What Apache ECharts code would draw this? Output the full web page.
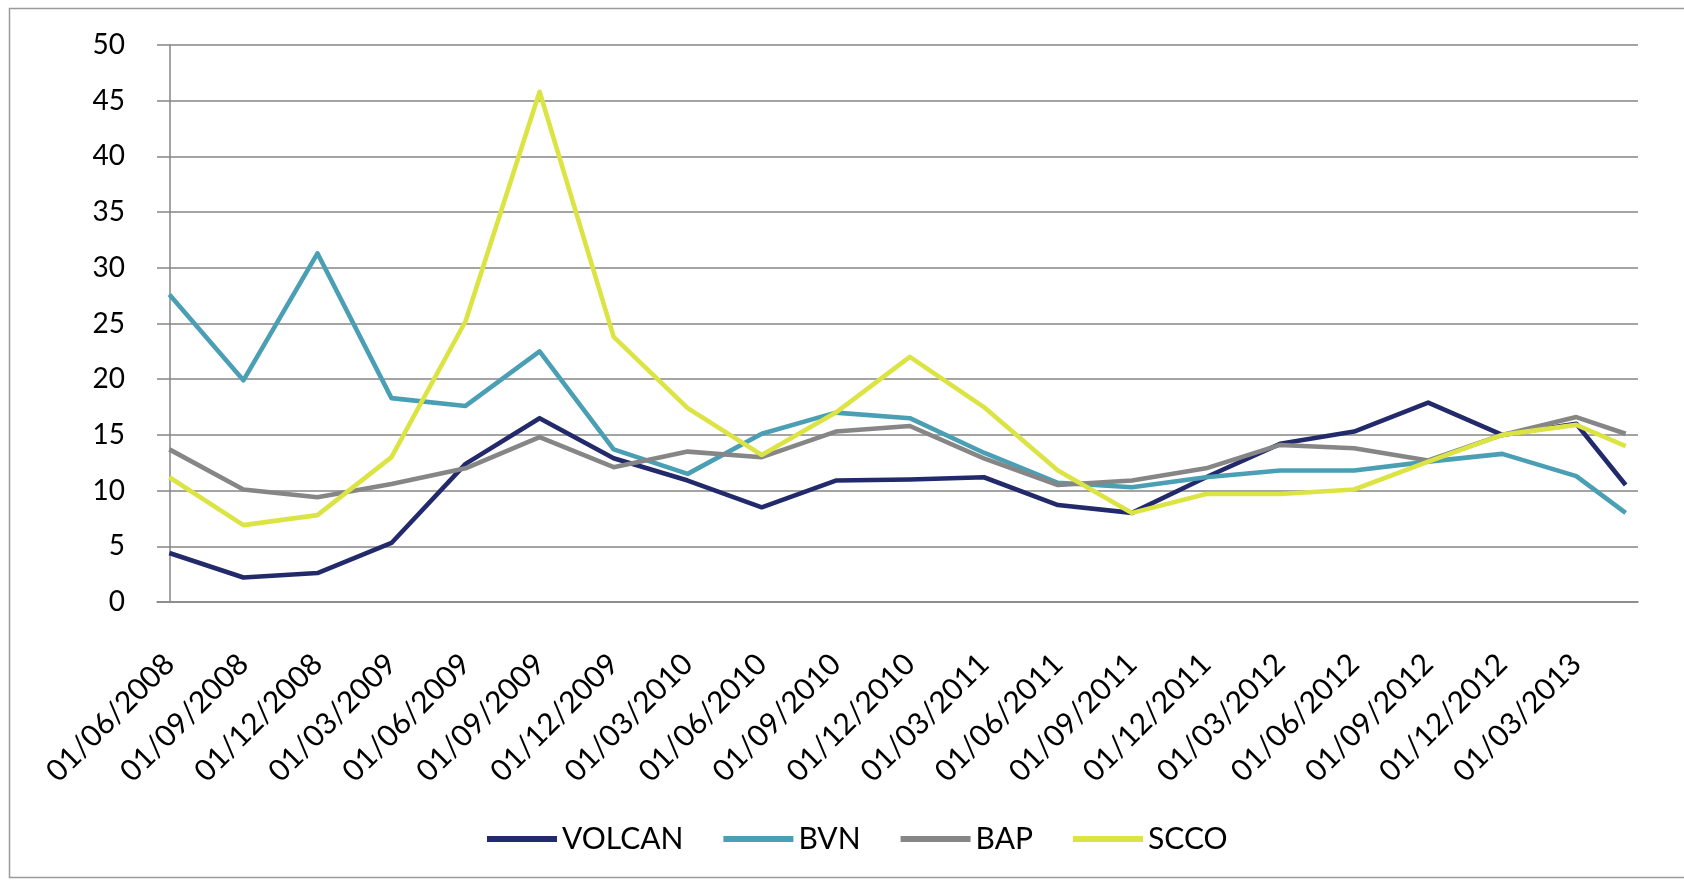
<!DOCTYPE html>
<html>
<head>
<meta charset="utf-8">
<script src="https://cdn.jsdelivr.net/npm/echarts@6/dist/echarts.min.js"></script>
<style>
html,body{margin:0;padding:0;background:#fff;}
#c{width:1684px;height:883px;}
</style>
</head>
<body>
<div id="c"></div>
<script>
// Observation dates (dd/mm/yyyy)
const dates = ["01/06/2008","01/09/2008","01/12/2008","01/03/2009","01/06/2009","01/09/2009","01/12/2009",
  "01/03/2010","01/06/2010","01/09/2010","01/12/2010","01/03/2011","01/06/2011","01/09/2011","01/12/2011",
  "01/03/2012","01/06/2012","01/09/2012","01/12/2012","01/03/2013","01/05/2013"];
// Axis tick labels
const tickLabels = ["01/06/2008","01/09/2008","01/12/2008","01/03/2009","01/06/2009","01/09/2009","01/12/2009",
  "01/03/2010","01/06/2010","01/09/2010","01/12/2010","01/03/2011","01/06/2011","01/09/2011","01/12/2011",
  "01/03/2012","01/06/2012","01/09/2012","01/12/2012","01/03/2013"];
const volcan = [4.4, 2.2, 2.6, 5.3, 12.4, 16.5, 12.9, 10.9, 8.5, 10.9, 11.0, 11.2, 8.7, 8.0, 11.2, 14.2, 15.3, 17.9, 15.0, 16.0, 10.5];
const bvn    = [27.6, 19.9, 31.3, 18.3, 17.6, 22.5, 13.7, 11.5, 15.1, 17.0, 16.5, 13.4, 10.7, 10.3, 11.2, 11.8, 11.8, 12.6, 13.3, 11.3, 8.0];
const bap    = [13.7, 10.1, 9.4, 10.6, 12.0, 14.8, 12.1, 13.5, 13.0, 15.3, 15.8, 12.9, 10.5, 10.9, 12.0, 14.1, 13.8, 12.7, 15.0, 16.6, 15.1];
const scco   = [11.2, 6.9, 7.8, 13.0, 25.2, 45.8, 23.8, 17.4, 13.2, 17.0, 22.0, 17.5, 11.8, 8.0, 9.7, 9.7, 10.1, 12.6, 15.0, 15.9, 14.0];
const seriesNames = ["VOLCAN","BVN","BAP","SCCO"];
const seriesColors = ["#232a6c","#4a9fb4","#868686","#dbe443"];

// month offset from the first date (June 2008), used as the date-axis position
function monthIndex(s){
  const p = s.split("/");
  return (parseInt(p[2],10) - 2008) * 12 + (parseInt(p[1],10) - 6);
}
const tickMonths = tickLabels.map(monthIndex);
const labelMap = {};
tickLabels.forEach(function(t){ labelMap[monthIndex(t)] = t; });

const allValues = [volcan, bvn, bap, scco];
const series = allValues.map(function(vals, k){
  return {
    name: seriesNames[k],
    type: 'line',
    data: dates.map(function(d, i){ return [monthIndex(d), vals[i]]; }),
    symbol: 'none',
    lineStyle: { width: 4.6, color: seriesColors[k], join: 'round' },
    itemStyle: { color: seriesColors[k] },
    z: 3 + k
  };
});

const chart = echarts.init(document.getElementById('c'), null, {renderer: 'canvas'});
chart.setOption({
  backgroundColor: '#ffffff',
  animation: false,
  graphic: [{
    type: 'rect',
    shape: { x: 9.5, y: 8.5, width: 1720, height: 869 },
    style: { fill: 'none', stroke: '#9a9a9a', lineWidth: 1.5 },
    silent: true, z: -1
  }],
  grid: { left: 157, right: 46, top: 45, bottom: 281, containLabel: false },
  legend: {
    data: seriesNames,
    left: 482, top: 819,
    icon: 'rect',
    itemWidth: 70, itemHeight: 6,
    itemGap: 40,
    textStyle: { fontFamily: 'Lato', fontSize: 30, color: '#000', padding: [0,0,0,0] }
  },
  xAxis: {
    type: 'value',
    min: -0.5, max: 59.5,
    axisLine: { show: true, lineStyle: { color: '#868686', width: 1.5 } },
    axisTick: { show: false },
    splitLine: { show: false },
    axisLabel: {
      customValues: tickMonths,
      formatter: function(v){ return labelMap[Math.round(v)] || ''; },
      rotate: 45,
      margin: 57,
      fontFamily: 'Lato', fontSize: 30, color: '#000'
    }
  },
  yAxis: {
    type: 'value',
    min: 0, max: 50, interval: 5,
    axisLine: { show: true, lineStyle: { color: '#868686', width: 1.5 } },
    axisTick: { show: false },
    splitLine: { show: true, lineStyle: { color: '#868686', width: 1.5 } },
    axisLabel: { margin: 32, fontFamily: 'Lato', fontSize: 28, color: '#000' }
  },
  series: series
});
</script>
</body>
</html>
